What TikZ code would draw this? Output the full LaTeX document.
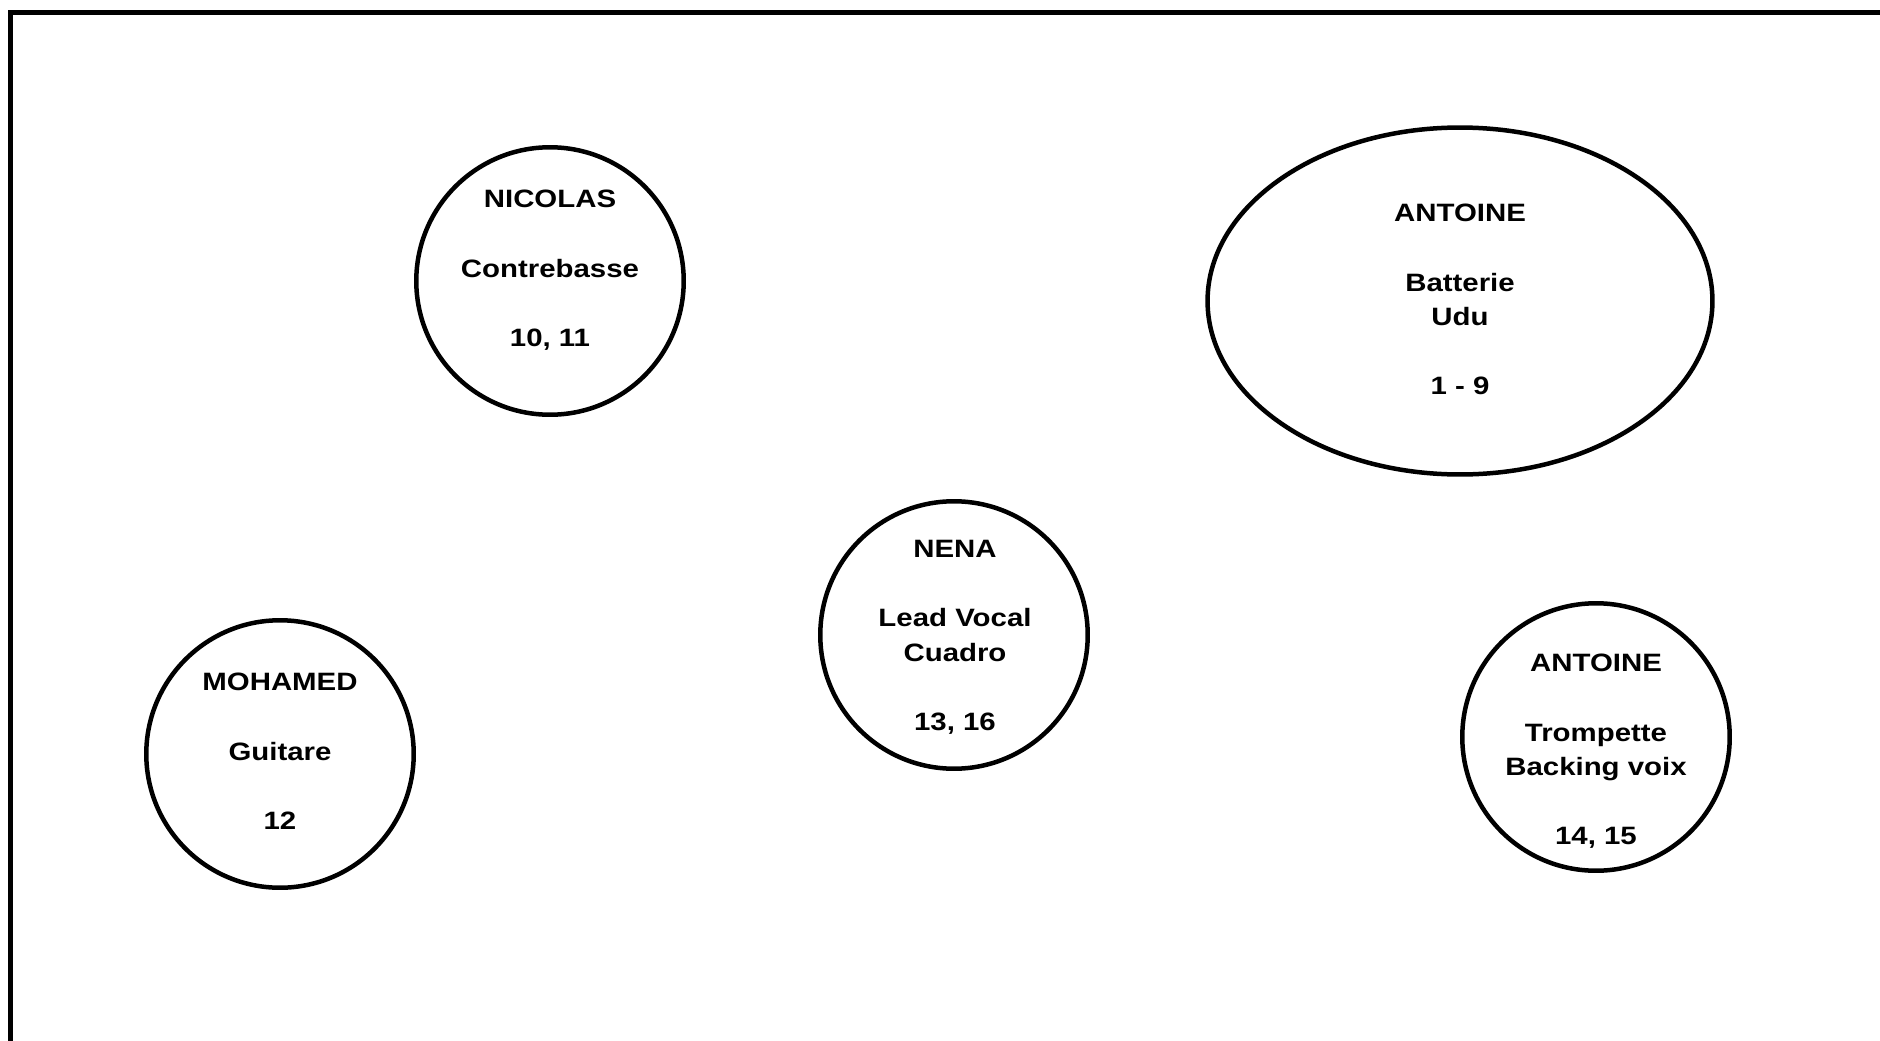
\documentclass[tikz,border=0pt]{standalone}
\usepackage{fontspec}
\newfontfamily\stagefont{Liberation Sans}[FakeStretch=1.17]
\usetikzlibrary{shapes.geometric,positioning}

\begin{document}
\begin{tikzpicture}[
  x=0.02cm, y=-0.02cm,
  player/.style={draw=black, line width=0.09cm, circle, minimum size=5.35cm, inner sep=0pt},
  drums/.style={player, ellipse, minimum width=10.1cm, minimum height=6.94cm},
  who/.style={font=\stagefont\bfseries\fontsize{14.3}{19.7}\selectfont,
    align=center, anchor=north, inner sep=0pt}
]
\useasboundingbox (0,0) rectangle (1880,1041);
% stage edge
\draw[line width=0.1cm] (10.5,1041) -- (10.5,12.5) -- (1880,12.5);

\node[player] (nicolas) at (550,281) {};
\node[drums] (antoine-drums) at (1460,301) {};
\node[player] (nena) at (954,635) {};
\node[player] (mohamed) at (280,754) {};
\node[player] (antoine-trp) at (1596,737) {};

\node[who] (nicolas-txt) at (550,190) {NICOLAS\\ \\Contrebasse\\ \\10, 11};
\node[who] (antoine-drums-txt) at (1460,204) {ANTOINE\\ \\Batterie\\Udu\\ \\1 - 9};
\node[who] (nena-txt) at (955,540) {NENA\\ \\Lead Vocal\\Cuadro\\ \\13, 16};
\node[who] (mohamed-txt) at (280,673) {MOHAMED\\ \\Guitare\\ \\12};
\node[who] (antoine-trp-txt) at (1596,654) {ANTOINE\\ \\Trompette\\Backing voix\\ \\14, 15};
\end{tikzpicture}
\end{document}
